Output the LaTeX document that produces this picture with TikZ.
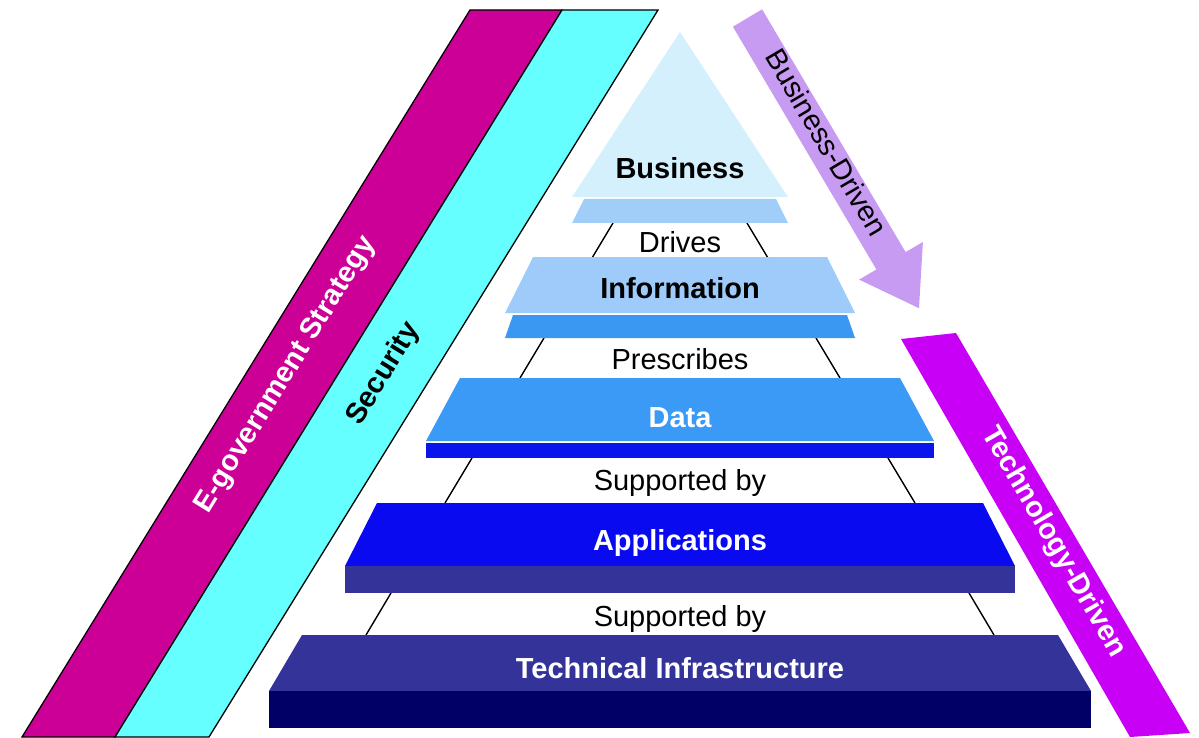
\documentclass[tikz,border=0pt]{standalone}
\usepackage{fontspec}
\setmainfont{Liberation Sans}
\usetikzlibrary{positioning}

\definecolor{egovmag}{RGB}{204,0,150}
\definecolor{seccyan}{RGB}{102,255,255}
\definecolor{bizface}{RGB}{212,240,252}
\definecolor{bizstrip}{RGB}{160,206,248}
\definecolor{infoface}{RGB}{158,203,250}
\definecolor{infostrip}{RGB}{59,152,242}
\definecolor{dataface}{RGB}{59,154,245}
\definecolor{datastrip}{RGB}{10,20,236}
\definecolor{appsface}{RGB}{10,10,240}
\definecolor{appsstrip}{RGB}{51,51,153}
\definecolor{techface}{RGB}{51,51,153}
\definecolor{techstrip}{RGB}{0,0,102}
\definecolor{bizarrow}{RGB}{200,155,243}
\definecolor{techbar}{RGB}{200,0,245}

\tikzset{
  band/.style={draw=black, line width=1.3pt, line join=miter},
  side/.style={draw=black, line width=1.4pt},
  tier/.style={font=\bfseries\fontsize{29}{33}\selectfont, anchor=base, inner sep=0pt},
  verb/.style={font=\fontsize{29}{33}\selectfont, anchor=base, inner sep=0pt},
  slant/.style={font=\fontsize{29}{33}\selectfont, text height=0.72em, text depth=0pt, inner sep=0pt},
  boldslant/.style={slant, font=\bfseries\fontsize{29}{33}\selectfont}
}

\begin{document}
\begin{tikzpicture}[x=1pt, y=-1pt]
    \useasboundingbox (0,0) rectangle (1199,738);

    % strategy and security bands
    \filldraw[band, fill=egovmag] (470,10) -- (562,10) -- (115,737) -- (22,737) -- cycle;
    \filldraw[band, fill=seccyan] (562,10) -- (658,10) -- (209,737) -- (115,737) -- cycle;
    \path node[boldslant, rotate=58.4, text=white] (egov) at (289,377) {E-government Strategy}
          node[boldslant, rotate=58.4] (sec) at (387,376) {Security};

    % pyramid sides between the layers
    \coordinate (bizL) at (613,223);  \coordinate (infoL) at (592.6,257);
    \coordinate (bizR) at (747,223);  \coordinate (infoR) at (767.4,257);
    \coordinate (infoL2) at (544,338); \coordinate (dataL) at (520,378);
    \coordinate (infoR2) at (816,338); \coordinate (dataR) at (840,378);
    \coordinate (dataL2) at (472,458); \coordinate (appsL) at (445,503);
    \coordinate (dataR2) at (888,458); \coordinate (appsR) at (915,503);
    \coordinate (appsL2) at (391,593); \coordinate (techL) at (366,635);
    \coordinate (appsR2) at (969,593); \coordinate (techR) at (994,635);
    \draw[side] (bizL) -- (infoL);   \draw[side] (bizR) -- (infoR);
    \draw[side] (infoL2) -- (dataL); \draw[side] (infoR2) -- (dataR);
    \draw[side] (dataL2) -- (appsL); \draw[side] (dataR2) -- (appsR);
    \draw[side] (appsL2) -- (techL); \draw[side] (appsR2) -- (techR);

    % layers
    \fill[bizface] (680,32) -- (788,197) -- (572,197) -- cycle;
    \fill[bizstrip] (584,199) -- (776,199) -- (788,223) -- (572,223) -- cycle;
    \fill[infoface] (533,257) -- (827,257) -- (855,313) -- (505,313) -- cycle;
    \fill[infostrip] (513,315) -- (847,315) -- (855,338) -- (505,338) -- cycle;
    \fill[dataface] (460,378) -- (900,378) -- (934,441) -- (426,441) -- cycle;
    \fill[datastrip] (426,443) rectangle (934,458);
    \fill[appsface] (377,503) -- (983,503) -- (1015,566) -- (345,566) -- cycle;
    \fill[appsstrip] (345,566) rectangle (1015,593);
    \fill[techface] (302,635) -- (1058,635) -- (1091,691) -- (269,691) -- cycle;
    \fill[techstrip] (269,691) rectangle (1091,728);

    \path node[tier] (biz) at (680,179) {Business}
          node[verb] (drives) at (680,252) {Drives}
          node[tier] (info) at (680,298) {Information}
          node[verb] (presc) at (680,369) {Prescribes}
          node[tier, text=white] (data) at (680,427) {Data}
          node[verb] (supA) at (680,490) {Supported by}
          node[tier, text=white] (apps) at (680,550) {Applications}
          node[verb] (supB) at (680,626) {Supported by}
          node[tier, text=white] (tech) at (680,678) {Technical Infrastructure};

    % business-driven arrow
    \fill[bizarrow] (762.1,9.3) -- (905.6,252.1) -- (922.9,242) -- (919,308.2)
        -- (859.1,279.6) -- (876.4,269.5) -- (732.9,26.7) -- cycle;
    \path node[slant, rotate=-59.4] (bizdrv) at (821,146) {Business-Driven};

    % technology-driven bar
    \fill[techbar] (901,339) -- (956,333) -- (1190,733) -- (1130,737) -- cycle;
    \path node[boldslant, rotate=-60, text=white] (techdrv) at (1050,544) {Technology-Driven};
\end{tikzpicture}
\end{document}
